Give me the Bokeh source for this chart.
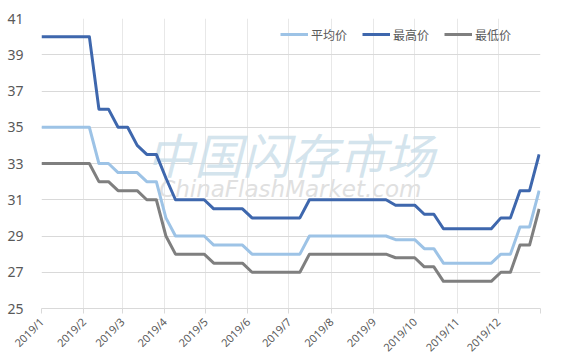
import math
import pandas as pd
from bokeh.plotting import figure
from bokeh.models import Range1d, FixedTicker, Legend, LegendItem, Label
from bokeh.embed import file_html
from bokeh.resources import INLINE

# ---- data (weekly prices, 2019) ----
start = pd.Timestamp("2019-01-01")
dates = pd.date_range(start, periods=53, freq="7D")

avg_price = [35, 35, 35, 35, 35, 35, 33, 33, 32.5, 32.5, 32.5, 32, 32, 30.0,
             29, 29, 29, 29, 28.5, 28.5, 28.5, 28.5, 28, 28, 28, 28, 28, 28,
             29, 29, 29, 29, 29, 29, 29, 29, 29, 28.8, 28.8, 28.8, 28.3, 28.3,
             27.5, 27.5, 27.5, 27.5, 27.5, 27.5, 28, 28, 29.5, 29.5, 31.5]
max_price = [40, 40, 40, 40, 40, 40, 36, 36, 35, 35, 34, 33.5, 33.5, 32.2,
             31, 31, 31, 31, 30.5, 30.5, 30.5, 30.5, 30, 30, 30, 30, 30, 30,
             31, 31, 31, 31, 31, 31, 31, 31, 31, 30.7, 30.7, 30.7, 30.2, 30.2,
             29.4, 29.4, 29.4, 29.4, 29.4, 29.4, 30, 30, 31.5, 31.5, 33.5]
min_price = [33, 33, 33, 33, 33, 33, 32, 32, 31.5, 31.5, 31.5, 31, 31, 29.0,
             28, 28, 28, 28, 27.5, 27.5, 27.5, 27.5, 27, 27, 27, 27, 27, 27,
             28, 28, 28, 28, 28, 28, 28, 28, 28, 27.8, 27.8, 27.8, 27.3, 27.3,
             26.5, 26.5, 26.5, 26.5, 26.5, 26.5, 27, 27, 28.5, 28.5, 30.5]

series_names = ["平均价", "最高价", "最低价"]
series_colors = ["#9dc3e6", "#3e67ad", "#7f7f7f"]

month_labels = ["2019/1", "2019/2", "2019/3", "2019/4", "2019/5", "2019/6",
                "2019/7", "2019/8", "2019/9", "2019/10", "2019/11", "2019/12"]
y_ticks = [25, 27, 29, 31, 33, 35, 37, 39, 41]

# ---- positions ----
x_days = [(d - start).days for d in dates]
month_starts = pd.date_range("2019-01-01", periods=13, freq="MS")
month_days = [(m - start).days for m in month_starts]
overrides = {float(d): lab for d, lab in zip(month_days, month_labels)}
overrides[float(month_days[-1])] = ""

TXT = "#595959"
FONT = "Noto Sans"

p = figure(width=564, height=363, output_backend="svg", toolbar_location=None,
           x_range=Range1d(0, 365), y_range=Range1d(25, 41),
           min_border_left=41, min_border_right=24, min_border_top=18,
           min_border_bottom=55)
p.outline_line_color = None
p.background_fill_color = "white"
p.border_fill_color = "white"

xt = FixedTicker(ticks=month_days)
p.xaxis.ticker = xt
p.xaxis.major_label_overrides = overrides
p.xaxis.major_label_orientation = math.pi / 4
p.xaxis.axis_line_color = "#d9d9d9"
p.xaxis.major_tick_line_color = "#d9d9d9"
p.xaxis.major_tick_out = 5
p.xaxis.major_tick_in = 0
p.xaxis.minor_tick_line_color = None
p.xaxis.major_label_text_font_size = "11px"
p.xaxis.major_label_text_color = TXT
p.xaxis.major_label_text_font = FONT
p.xaxis.major_label_standoff = 6

p.yaxis.ticker = FixedTicker(ticks=y_ticks)
p.yaxis.axis_line_color = None
p.yaxis.major_tick_line_color = None
p.yaxis.minor_tick_line_color = None
p.yaxis.major_label_standoff = 12
p.yaxis.major_label_text_font_size = "14px"
p.yaxis.major_label_text_color = TXT
p.yaxis.major_label_text_font = FONT

p.xgrid.ticker = xt
p.xgrid.grid_line_color = "#e8e8e8"
p.ygrid.grid_line_color = "#d9d9d9"

# watermark
wm1 = Label(x=182, y=33.6, text="中国闪存市场", text_align="center",
            text_baseline="middle", text_font="Noto Sans CJK SC",
            text_font_size="48px", text_font_style="italic",
            text_color="#c9dde8", text_alpha=0.8, level="underlay")
wm2 = Label(x=182, y=31.6, text="ChinaFlashMarket.com", text_align="center",
            text_baseline="middle", text_font="DejaVu Sans",
            text_font_size="23px", text_font_style="italic",
            text_color="#e0e0e0", level="underlay")
p.add_layout(wm1)
p.add_layout(wm2)

items = []
for name, vals, col in zip(series_names, [avg_price, max_price, min_price], series_colors):
    r = p.line(x_days, vals, line_color=col, line_width=3, line_join="round")
    items.append(LegendItem(label=name, renderers=[r]))

legend = Legend(items=items, orientation="horizontal", location=(239, 265),
                border_line_color=None, background_fill_alpha=0,
                padding=0, margin=0, spacing=15, glyph_width=28,
                glyph_height=18, label_standoff=3, label_height=18,
                label_text_font_size="12px", label_text_color=TXT,
                label_text_font="Noto Sans CJK SC")
p.add_layout(legend)

open("out.html", "w").write(file_html(p, INLINE))
